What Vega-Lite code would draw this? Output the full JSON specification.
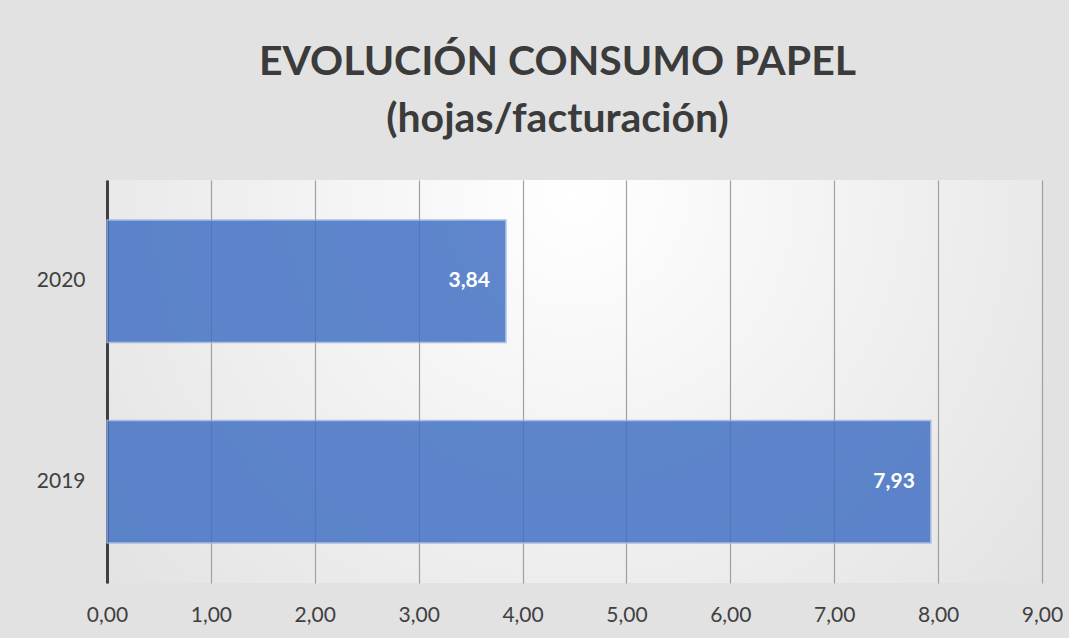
{
  "$schema": "https://vega.github.io/schema/vega-lite/v6.json",
  "width": 935,
  "height": 403,
  "autosize": "none",
  "padding": {"left": 107, "top": 180, "right": 27, "bottom": 55},
  "background": "#e2e2e2",
  "title": {
    "text": ["EVOLUCIÓN CONSUMO PAPEL", "(hojas/facturación)"],
    "font": "Lato",
    "fontSize": 41,
    "fontWeight": "bold",
    "color": "#3b3b3b",
    "lineHeight": 57,
    "anchor": "middle",
    "dx": -17,
    "offset": 39
  },
  "data": {
    "values": [
      {"anio": "2019", "valor": 7.93},
      {"anio": "2020", "valor": 3.84}
    ]
  },
  "encoding": {
    "y": {
      "field": "anio",
      "type": "nominal",
      "sort": "descending",
      "scale": {"paddingInner": 0.39, "paddingOuter": 0.2},
      "axis": {
        "title": null,
        "domain": true,
        "domainColor": "#404040",
        "domainWidth": 3,
        "ticks": false,
        "labelPadding": 22,
        "labelFont": "Lato",
        "labelFontSize": 21,
        "labelColor": "#404040",
        "grid": false
      }
    },
    "x": {
      "field": "valor",
      "type": "quantitative",
      "scale": {"domain": [0, 9]},
      "axis": {
        "title": null,
        "values": [0, 1, 2, 3, 4, 5, 6, 7, 8, 9],
        "labelExpr": "replace(format(datum.value, '.2f'), '.', ',')",
        "labelFlush": false,
        "domain": false,
        "ticks": false,
        "grid": true,
        "gridColor": "#a0a0a0",
        "gridWidth": 1.2,
        "labelPadding": 21,
        "labelFont": "Lato",
        "labelFontSize": 21,
        "labelColor": "#404040"
      }
    }
  },
  "layer": [
    {
      "mark": {
        "type": "bar",
        "color": "#4472c4",
        "opacity": 0.85,
        "stroke": "#9db4e0",
        "strokeWidth": 1.5
      }
    },
    {
      "mark": {
        "type": "text",
        "align": "right",
        "baseline": "middle",
        "dx": -16,
        "font": "Lato",
        "fontSize": 21,
        "fontWeight": "bold",
        "color": "#ffffff"
      },
      "encoding": {
        "text": {"field": "valor", "type": "quantitative", "format": ".2f"}
      }
    }
  ],
  "config": {
    "view": {
      "stroke": null,
      "fill": {
        "gradient": "radial",
        "x1": 0.5, "y1": 0.3, "r1": 0,
        "x2": 0.5, "y2": 0.3, "r2": 0.9,
        "stops": [
          {"offset": 0, "color": "#ffffff"},
          {"offset": 1, "color": "#d8d8d8"}
        ]
      }
    },
    "locale": {
      "number": {"decimal": ",", "thousands": ".", "grouping": [3], "currency": ["", " €"]}
    }
  }
}
